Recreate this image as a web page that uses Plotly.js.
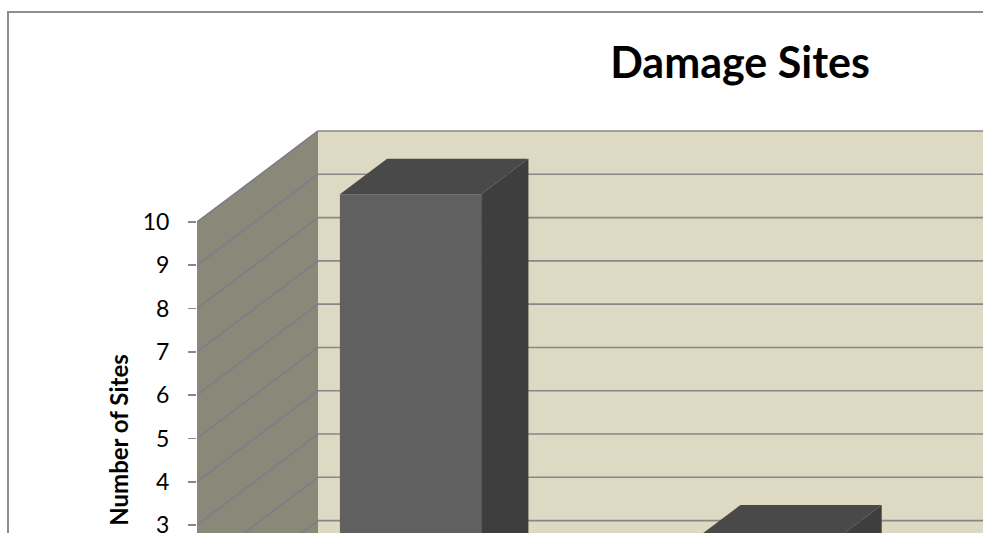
<!DOCTYPE html>
<html>
<head>
<meta charset="utf-8">
<script src="https://cdn.plot.ly/plotly-3.0.1.min.js"></script>
<style>
  html, body { margin: 0; padding: 0; overflow: hidden; background: #ffffff; }
  #chart { width: 1480px; height: 800px; }
</style>
</head>
<body>
<div id="chart"></div>
<script>
// ---- data ----
const categories = ['Category 1', 'Category 2'];
const siteCounts = [10, 2];
const tickValues = [0, 1, 2, 3, 4, 5, 6, 7, 8, 9, 10];
const tickLabels = ['0', '1', '2', '3', '4', '5', '6', '7', '8', '9', '10'];
const chartTitle = 'Damage Sites';
const yTitle = 'Number of Sites';

// ---- geometry / style of the 3-D look ----
const nSlots = 3;            // category slots along the floor
const yMax = 10;             // wall height (axis max)
const pxPerX = 353.3, pxPerY = 43.29;
const DX = 121 / pxPerX;     // full depth shift in x units
const DY = 91 / pxPerY;      // full depth shift in y units
const frontD = 0.305, backD = 0.695, halfW = 0.2;
const W = 1480, H = 800, L = 197, T = 120, B = 40;
const plotH = H - T - B, plotW = W - L;
const y0px = 654.9;          // pixel of value 0 on the front plane
const yTop = (y0px - T) / pxPerY, yBot = (y0px - (H - B)) / pxPerY;

const xL = 0.5, xR = 0.5 + nSlots;
const poly = pts => 'M' + pts.map(p => p[0] + ',' + p[1]).join(' L') + ' Z';

const shapes = [];
// side wall
shapes.push({type: 'path', xref: 'x', yref: 'y', layer: 'below', fillcolor: '#8a8878',
  line: {width: 0},
  path: poly([[xL, 0], [xL, yMax], [xL + DX, yMax + DY], [xL + DX, DY]])});
// back wall
shapes.push({type: 'path', xref: 'x', yref: 'y', layer: 'below', fillcolor: '#ddd9c3',
  line: {width: 0},
  path: poly([[xL + DX, DY], [xL + DX, yMax + DY], [xR + DX, yMax + DY], [xR + DX, DY]])});
// gridlines on side wall
let sp = '', bp = '';
tickValues.forEach(v => {
  sp += 'M' + xL + ',' + v + ' L' + (xL + DX) + ',' + (v + DY) + ' ';
  bp += 'M' + (xL + DX) + ',' + (v + DY) + ' L' + (xR + DX) + ',' + (v + DY) + ' ';
});
shapes.push({type: 'path', xref: 'x', yref: 'y', layer: 'below', path: sp,
  line: {color: '#7c7d89', width: 1.6}});
// gridlines on back wall
shapes.push({type: 'path', xref: 'x', yref: 'y', layer: 'below', path: bp,
  line: {color: '#878787', width: 1.6}});
// chart frame
shapes.push({type: 'rect', xref: 'paper', yref: 'paper',
  x0: (8 - L) / plotW, x1: (1476 - L) / plotW,
  y0: (H - B - 795) / plotH, y1: 1 + (T - 12) / plotH,
  line: {color: '#8e8e8e', width: 2}, fillcolor: 'rgba(0,0,0,0)', layer: 'above'});

const traces = [];
// bar front faces
traces.push({type: 'bar', x: categories.map((c, i) => i + 1 + frontD * DX),
  y: siteCounts, base: siteCounts.map(() => frontD * DY), width: 2 * halfW,
  marker: {color: '#606060', line: {width: 0}}, hoverinfo: 'skip'});

// bar top and side faces
siteCounts.forEach((v, i) => {
  const xc = i + 1;
  const xa = xc - halfW, xb = xc + halfW;
  traces.push({type: 'scatter', mode: 'lines', fill: 'toself', fillcolor: '#494949',
    line: {width: 0}, hoverinfo: 'skip',
    x: [xa + frontD * DX, xb + frontD * DX, xb + backD * DX, xa + backD * DX, xa + frontD * DX],
    y: [v + frontD * DY, v + frontD * DY, v + backD * DY, v + backD * DY, v + frontD * DY]});
  traces.push({type: 'scatter', mode: 'lines', fill: 'toself', fillcolor: '#3e3e3e',
    line: {width: 0}, hoverinfo: 'skip',
    x: [xb + frontD * DX, xb + frontD * DX, xb + backD * DX, xb + backD * DX, xb + frontD * DX],
    y: [frontD * DY, v + frontD * DY, v + backD * DY, backD * DY, frontD * DY]});
});

const layout = {
  width: W, height: H,
  margin: {l: L, r: 0, t: T, b: B, pad: 0},
  paper_bgcolor: '#ffffff', plot_bgcolor: 'rgba(0,0,0,0)',
  showlegend: false, hovermode: false,
  title: {text: chartTitle, x: 0.5, xref: 'container', xanchor: 'center',
    y: 1 - 63 / H, yref: 'container', yanchor: 'middle',
    font: {family: 'Lato', size: 43, weight: 700, color: '#000000'}},
  xaxis: {range: [xL, xL + plotW / pxPerX], showgrid: false, zeroline: false,
    showline: false, tickvals: categories.map((c, i) => i + 1), ticktext: categories,
    ticks: '', showticklabels: false, fixedrange: true},
  yaxis: {range: [yBot, yTop], showgrid: false, zeroline: false, showline: false,
    tickvals: tickValues, ticktext: tickLabels, ticks: 'outside', ticklen: 8,
    tickwidth: 1.6, tickcolor: '#878787', ticklabelstandoff: 14,
    tickfont: {family: 'Lato', size: 23, color: '#000000'},
    title: {text: yTitle, standoff: 7,
      font: {family: 'Lato', size: 24, weight: 700, color: '#000000'}},
    fixedrange: true},
  shapes: shapes
};

Plotly.newPlot('chart', traces, layout, {staticPlot: true, displayModeBar: false});
</script>
</body>
</html>
